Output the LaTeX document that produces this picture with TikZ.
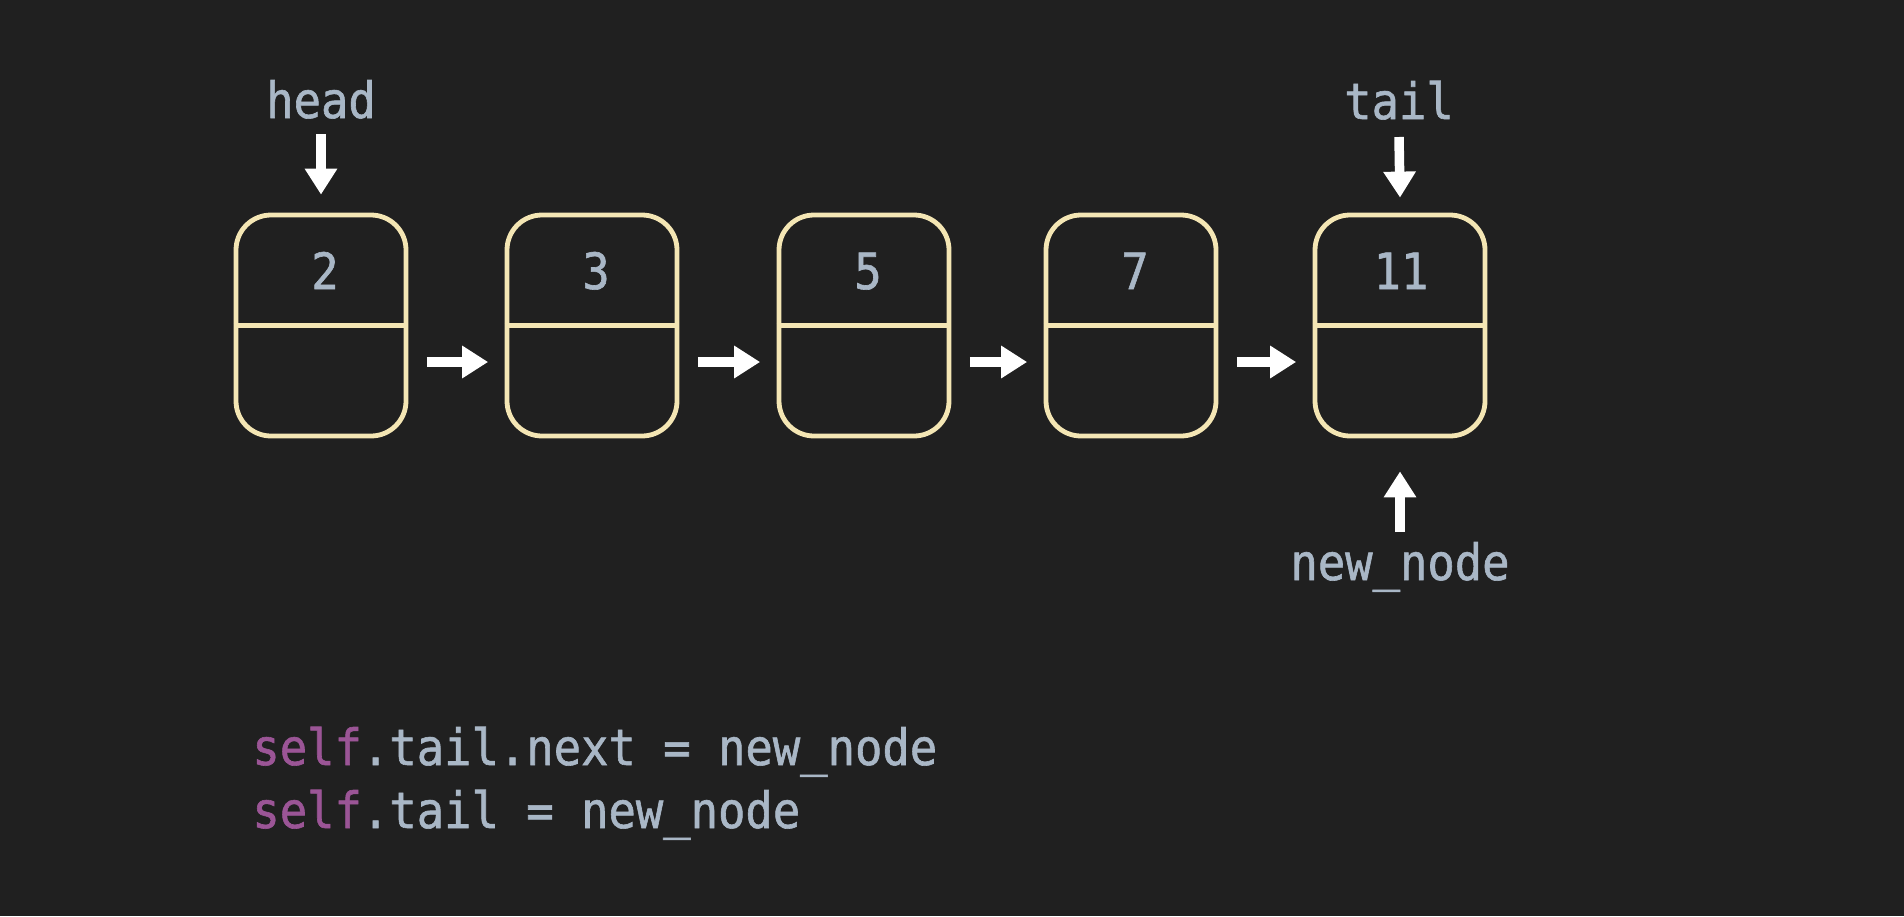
\documentclass[tikz,border=0pt]{standalone}
\usepackage{fontspec}
\usetikzlibrary{arrows.meta,calc}
\newfontfamily\codefont{DejaVu Sans Mono}[FakeStretch=0.91,FakeBold=1.2]
\definecolor{bgc}{HTML}{202020}
\definecolor{boxc}{HTML}{F4E6B4}
\definecolor{txtc}{HTML}{A9B7C6}
\definecolor{selfc}{HTML}{9B5596}
\begin{document}
\begin{tikzpicture}[x=0.5pt,y=-0.5pt,
  listnode/.style={draw=boxc, line width=2.4pt, rounded corners=17.5pt,
    minimum width=85pt, minimum height=110.5pt, inner sep=0pt},
  divider/.style={draw=boxc, line width=2.4pt},
  val/.style={text=txtc, font=\codefont\fontsize{25}{30}\selectfont, inner sep=0pt, anchor=base},
  lbl/.style={text=txtc, font=\codefont\fontsize{25}{30}\selectfont, inner sep=0pt, anchor=base},
  code/.style={text=txtc, font=\codefont\fontsize{25}{30}\selectfont, inner sep=0pt, anchor=base west},
  ptr/.style={draw=white, line width=4.75pt, -{Triangle[length=13pt,width=15.5pt]}},
  link/.style={ptr, shorten <=9.25pt, shorten >=8.25pt}]
% canvas
\fill[bgc] (0,0) rectangle (1904,916);
\useasboundingbox (0,0) rectangle (1904,916);

% list nodes
\foreach \i/\x in {1/321, 2/592, 3/864, 4/1131, 5/1400} {
  \node[listnode] (b\i) at (\x,325.5) {};
  \draw[divider] (b\i.west) -- (b\i.east);
}
\node[val] (v1) at (325,289) {2};
\node[val] (v2) at (596,289) {3};
\node[val] (v3) at (868,289) {5};
\node[val] (v4) at (1135,289) {7};
\node[val] (v5) at (1401,289) {11};

% next pointers
\foreach \a/\b in {1/2, 2/3, 3/4, 4/5} {
  \draw[link] ($(b\a.east)+(0,36.5)$) -- ($(b\b.west)+(0,36.5)$);
}

% head / tail / new_node labels
\node[lbl] (hd) at (321,118) {head};
\node[lbl] (tl) at (1399,119) {tail};
\node[lbl] (nn) at (1400,580) {new\_node};
\draw[ptr] ($(hd.base)+(0,16)$) -- ($(b1.north)+(0,-18)$);
\draw[ptr] ($(tl.base)+(0,18)$) -- ($(b5.north)+(0,-15)$);
\draw[ptr] ($(nn.base)+(0,-48)$) -- ($(b5.south)+(0,33)$);

% code
\node[code] (c1) at (252,765) {{\color{selfc}self}.tail.next = new\_node};
\node[code] (c2) at (252,828) {{\color{selfc}self}.tail = new\_node};
\end{tikzpicture}
\end{document}
